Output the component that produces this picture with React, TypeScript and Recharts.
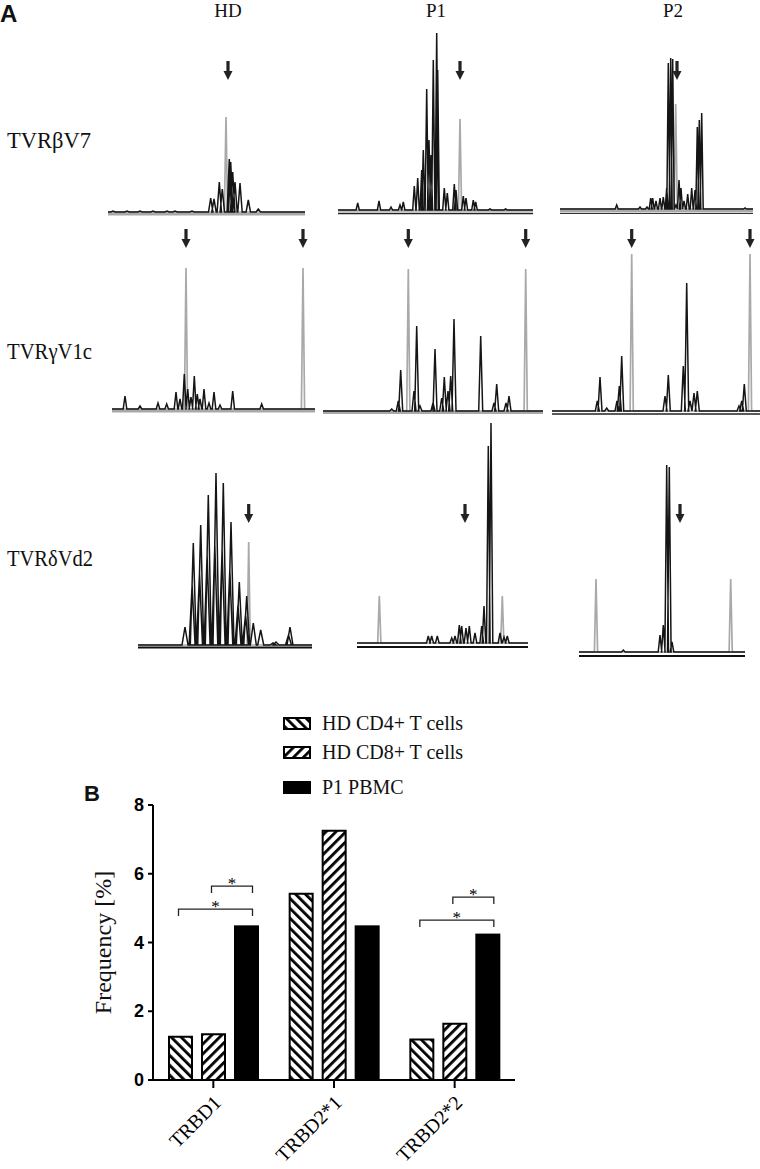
import React from 'react';
import { LineChart, Line, XAxis, YAxis, ReferenceLine, ReferenceDot, BarChart, Bar, Legend } from 'recharts';

const SERIF = '"Liberation Serif", "Times New Roman", serif';
const SANS = '"Liberation Sans", Arial, sans-serif';

// ---- Panel A: spectratype peaks [position, intensity] inside each trace window
// TCR beta V7
const hdBetaSample = [[5, 1], [19, 1], [32, 1], [45, 1], [59, 1], [67, 1], [84, 1], [102.7, 14], [106, 13], [111.3, 30], [114.3, 23], [121.3, 53], [122.7, 50], [124.7, 40], [127, 30], [132, 29], [140.3, 12], [150.3, 3]];
const hdBetaMarker = [[118, 95]];
const p1BetaSample = [[19.7, 7], [41, 9], [53, 3], [62, 5], [65.3, 8], [76.3, 24], [79.7, 32], [83.7, 40], [85.3, 60], [88.7, 121], [91, 70], [93, 55], [95.3, 150], [98.7, 177], [99.7, 140], [106.3, 22], [109.3, 17], [116.3, 26], [118, 20], [125.3, 14], [128, 12], [135.3, 10], [137.7, 8], [152, 1], [167.6, 1]];
const p1BetaMarker = [[122, 91]];
const p2BetaSample = [[56.7, 4], [80, 2], [87, 2], [90.7, 11], [92.7, 11], [96, 8], [100, 11], [103.3, 12], [106.7, 21], [108.3, 146], [110.7, 151], [112.7, 150], [116, 4], [119, 29], [121, 21], [124, 8], [127.7, 15], [131.7, 21], [135, 19], [137.3, 82], [139.3, 89], [141.7, 96], [185, 1]];
const p2BetaMarker = [[115.7, 105]];

// TCR gamma V1c
const hdGammaSample = [[13, 13], [28, 3], [46, 6], [54.7, 5], [64, 17], [68, 10], [72.3, 35], [75.7, 20], [79, 12], [82.3, 33], [85.3, 15], [88, 10], [92, 20], [97, 6], [102, 17], [108, 4], [120.7, 18], [149.7, 5]];
const hdGammaMarker = [[74, 141], [191, 141]];
const p1GammaSample = [[68.7, 2], [75.3, 10], [77.7, 41], [91, 20], [93.7, 85], [97, 5], [110, 8], [112, 62], [118.7, 13], [121.3, 34], [125, 20], [127.7, 35], [131, 92], [157.7, 75], [171, 8], [173.7, 27], [183, 8], [186, 15]];
const p1GammaMarker = [[85.3, 142], [202.7, 142]];
const p2GammaSample = [[45.3, 10], [48, 34], [54.7, 3], [65, 10], [67.3, 25], [69.7, 55], [113, 15], [116.3, 36], [131.3, 45], [134.7, 128], [138, 10], [142, 18], [145.3, 20], [187, 5], [189.7, 10], [192.3, 27]];
const p2GammaMarker = [[79.7, 157], [198, 157]];

// TCR delta Vd2
const hdDeltaSample = [[47, 18], [54.1, 60], [55.3, 102], [61.5, 72], [62.7, 120], [69.1, 90], [70.3, 150], [76.8, 100], [78, 172], [84.1, 95], [85.3, 162], [91.8, 75], [93, 123], [100, 40], [101.3, 63], [107.5, 30], [108.7, 49], [115.3, 22], [122.7, 15], [135, 2], [138, 3], [150.5, 10], [152, 18]];
const hdDeltaMarker = [[110.7, 103]];
const p1DeltaSample = [[71.3, 7], [74.7, 7], [80.3, 7], [94.7, 5], [98, 7], [102.3, 18], [104.7, 17], [109, 15], [112.3, 17], [118, 10], [124.7, 17], [127, 37], [131.3, 197], [134, 220], [143, 10], [147, 6], [150.3, 7]];
const p1DeltaMarker = [[22.3, 47], [145.3, 47]];
const p2DeltaSample = [[44.3, 2], [81, 17], [84.3, 27], [87.7, 187], [90.3, 185], [93, 10]];
const p2DeltaMarker = [[17, 73], [151.7, 73]];

// arrow annotations: x positions
const hdBetaArrows = [120];
const p1BetaArrows = [122];
const p2BetaArrows = [117];
const hdGammaArrows = [74, 191];
const p1GammaArrows = [85.3, 202.7];
const p2GammaArrows = [79.7, 198];
const hdDeltaArrows = [110.7];
const p1DeltaArrows = [108];
const p2DeltaArrows = [101];

const columnLabels = ['HD', 'P1', 'P2'];
const rowLabels = ['TVRβV7', 'TVRγV1c', 'TVRδVd2'];

// ---- Panel B
const genes = ['TRBD1', 'TRBD2*1', 'TRBD2*2'];
const hdCd4 = [1.26, 5.42, 1.18];
const hdCd8 = [1.33, 7.25, 1.64];
const p1Pbmc = [4.47, 4.47, 4.23];
const freqTicks = [0, 2, 4, 6, 8];

// significance brackets (gene, compared bar: 0 = CD4, 1 = CD8, level in %)
const bracketGene = ['TRBD1', 'TRBD1', 'TRBD2*2', 'TRBD2*2'];
const bracketFrom = [1, 0, 1, 0];
const bracketLevel = [5.64, 4.97, 5.32, 4.65];

const barData = genes.map((g, i) => ({ gene: g, cd4: hdCd4[i], cd8: hdCd8[i], p1: p1Pbmc[i] }));

const GRAY = '#a9a9a9';
const INK = '#151515';

const spikes = (peaks: number[][], w: number, width: number) => {
  const pts: { x: number; y: number }[] = [{ x: 0, y: 0 }];
  peaks.forEach(([p, h]) => {
    pts.push({ x: p - w, y: 0 }, { x: p, y: h }, { x: p + w, y: 0 });
  });
  pts.push({ x: width, y: 0 });
  return pts;
};

const rowTops = [25, 222, 415];

const panels = [
  { row: 0, left: 108, width: 197, base: 212, sample: hdBetaSample, marker: hdBetaMarker, arrows: hdBetaArrows, tip: 132, w: 2.2, under: [{ y: -2, c: GRAY, s: 3 }] },
  { row: 0, left: 338, width: 195, base: 210, sample: p1BetaSample, marker: p1BetaMarker, arrows: p1BetaArrows, tip: 130, w: 1.6, under: [{ y: -1, c: GRAY, s: 1.5 }, { y: -3.5, c: '#222', s: 1.5 }] },
  { row: 0, left: 560, width: 193, base: 209, sample: p2BetaSample, marker: p2BetaMarker, arrows: p2BetaArrows, tip: 129, w: 1.5, under: [{ y: -2, c: GRAY, s: 3 }, { y: -4.5, c: '#333', s: 1 }] },
  { row: 1, left: 112, width: 203, base: 409, sample: hdGammaSample, marker: hdGammaMarker, arrows: hdGammaArrows, tip: 161, w: 1.8, under: [{ y: -2, c: GRAY, s: 3 }] },
  { row: 1, left: 323, width: 220, base: 411, sample: p1GammaSample, marker: p1GammaMarker, arrows: p1GammaArrows, tip: 163, w: 2, under: [{ y: -1.5, c: GRAY, s: 3 }] },
  { row: 1, left: 552, width: 208, base: 411, sample: p2GammaSample, marker: p2GammaMarker, arrows: p2GammaArrows, tip: 163, w: 2, under: [{ y: -3, c: '#222', s: 1.5 }] },
  { row: 2, left: 138, width: 174, base: 645, sample: hdDeltaSample, marker: hdDeltaMarker, arrows: hdDeltaArrows, tip: 122, w: 3, under: [{ y: -2.5, c: '#111', s: 2 }] },
  { row: 2, left: 357, width: 171, base: 643, sample: p1DeltaSample, marker: p1DeltaMarker, arrows: p1DeltaArrows, tip: 120, w: 1.8, under: [{ y: -4, c: '#111', s: 2 }] },
  { row: 2, left: 579, width: 166, base: 652, sample: p2DeltaSample, marker: p2DeltaMarker, arrows: p2DeltaArrows, tip: 129, w: 1.8, under: [{ y: -4, c: '#111', s: 2 }] },
];

const ArrowShape = (props: any) => {
  const { cx, cy } = props;
  return (
    <g fill="#222">
      <rect x={cx - 1.6} y={cy - 19} width={3.2} height={11} />
      <polygon points={`${cx - 4.5},${cy - 9} ${cx + 4.5},${cy - 9} ${cx},${cy}`} />
    </g>
  );
};

const Trace = ({ p }: { p: any }) => {
  const top = rowTops[p.row];
  const h = p.base - top;
  return (
    <div style={{ position: 'absolute', left: p.left, top }}>
      <LineChart width={p.width} height={h + 7} margin={{ top: 0, right: 0, bottom: 0, left: 0 }}>
        <XAxis type="number" dataKey="x" domain={[0, p.width]} hide allowDataOverflow />
        <YAxis type="number" domain={[-7, h]} hide allowDataOverflow />
        {p.under.map((u: any, i: number) => (
          <ReferenceLine key={i} y={u.y} stroke={u.c} strokeWidth={u.s} />
        ))}
        <Line data={spikes(p.marker, 1.6, p.width)} dataKey="y" type="linear" stroke={GRAY} strokeWidth={1.7} dot={false} isAnimationActive={false} />
        <Line data={spikes(p.sample, p.w, p.width)} dataKey="y" type="linear" stroke={INK} strokeWidth={1.5} dot={false} isAnimationActive={false} />
        {p.arrows.map((a: number, i: number) => (
          <ReferenceDot key={i} x={a} y={p.tip} r={0} shape={ArrowShape} />
        ))}
      </LineChart>
    </div>
  );
};

const swatchFill: Record<string, string> = { cd4: 'url(#hatchCD4)', cd8: 'url(#hatchCD8)', p1: '#000' };

const LegendBox = (props: any) => {
  const { payload } = props;
  return (
    <div style={{ fontFamily: SERIF }}>
      {(payload || []).map((e: any, i: number) => (
        <div key={e.dataKey} style={{ display: 'flex', alignItems: 'center', height: 29, marginTop: i === 2 ? 6 : 0 }}>
          <svg width={28} height={13}>
            <rect x={1} y={1} width={26} height={11} fill={swatchFill[e.dataKey]} stroke="#000" strokeWidth={2} />
          </svg>
          <span style={{ marginLeft: 11, fontFamily: SERIF, fontSize: 20, color: '#111' }}>{e.value}</span>
        </div>
      ))}
    </div>
  );
};

const P1Shape = (props: any) => {
  const { x, y, width, height, payload } = props;
  const unit = height / payload.p1;
  const base = y + height;
  const cx = x + width / 2;
  const step = width + 10;
  const items = bracketGene.map((g, i) => ({ g, from: bracketFrom[i], level: bracketLevel[i] })).filter((b) => b.g === payload.gene);
  return (
    <g>
      <rect x={x} y={y} width={width} height={height} fill="#000" stroke="#000" strokeWidth={2} />
      {items.map((b, i) => {
        const ly = base - b.level * unit;
        const dy = base - (b.level - 0.2) * unit;
        const lx = cx - (2 - b.from) * step - 2;
        const rx = cx + 6;
        return (
          <g key={i}>
            <path d={`M${lx},${dy}V${ly}H${rx}V${dy}`} stroke="#222" strokeWidth={1.3} fill="none" />
            <text x={(lx + rx) / 2} y={ly + 3} textAnchor="middle" fontFamily={SERIF} fontSize={17} fill="#000" stroke="none">*</text>
          </g>
        );
      })}
    </g>
  );
};

const XTick = (props: any) => {
  const { x, y, payload } = props;
  return (
    <text x={0} y={0} transform={`translate(${x + 9},${y + 14}) rotate(-45)`} textAnchor="end" fontFamily={SERIF} fontSize={20} fill="#000">
      {payload.value}
    </text>
  );
};

const YTick = (props: any) => {
  const { x, y, payload } = props;
  return (
    <text x={x - 2} y={y} dy={6} textAnchor="end" fontFamily={SANS} fontWeight="bold" fontSize={18} fill="#000">
      {payload.value}
    </text>
  );
};

const FreqLabel = (props: any) => {
  const { viewBox } = props;
  const cx = viewBox.x + 10;
  const cy = viewBox.y + viewBox.height / 2;
  return (
    <text x={cx} y={cy} transform={`rotate(-90, ${cx}, ${cy})`} textAnchor="middle" dominantBaseline="central" fontFamily={SERIF} fontSize={24} fill="#111">
      Frequency [%]
    </text>
  );
};

export default function App() {
  return (
    <div style={{ position: 'absolute', left: 0, top: 0, width: 760, height: 1169, background: '#fff', overflow: 'hidden', fontFamily: SERIF }}>
      <svg width={0} height={0} style={{ position: 'absolute' }}>
        <defs>
          <pattern id="hatchCD4" patternUnits="userSpaceOnUse" width={7} height={7} patternTransform="rotate(-45)">
            <rect width={7} height={7} fill="#fff" />
            <rect width={2.8} height={7} fill="#000" />
          </pattern>
          <pattern id="hatchCD8" patternUnits="userSpaceOnUse" width={7} height={7} patternTransform="rotate(45)">
            <rect width={7} height={7} fill="#fff" />
            <rect width={2.8} height={7} fill="#000" />
          </pattern>
        </defs>
      </svg>

      {panels.map((p, i) => (
        <Trace key={i} p={p} />
      ))}

      <div style={{ position: 'absolute', left: 40, top: 700 }}>
        <BarChart width={500} height={469} data={barData} margin={{ top: 105, right: 25, bottom: 59, left: 53 }} barSize={23} barGap={10}>
          <XAxis dataKey="gene" height={30} interval={0} tickSize={8} axisLine={{ stroke: '#000', strokeWidth: 2 }} tickLine={{ stroke: '#000', strokeWidth: 2 }} tick={(t: any) => <XTick {...t} />} />
          <YAxis width={60} domain={[0, 8]} ticks={freqTicks} tickSize={5} axisLine={{ stroke: '#000', strokeWidth: 2 }} tickLine={{ stroke: '#000', strokeWidth: 2 }} tick={(t: any) => <YTick {...t} />} label={<FreqLabel />} />
          <Legend layout="vertical" align="center" verticalAlign="middle" wrapperStyle={{ top: 8.5, left: 243, width: 260 }} content={<LegendBox />} />
          <Bar dataKey="cd4" name="HD CD4+ T cells" fill="url(#hatchCD4)" stroke="#000" strokeWidth={2} isAnimationActive={false} />
          <Bar dataKey="cd8" name="HD CD8+ T cells" fill="url(#hatchCD8)" stroke="#000" strokeWidth={2} isAnimationActive={false} />
          <Bar dataKey="p1" name="P1 PBMC" fill="#000" stroke="#000" strokeWidth={2} shape={P1Shape} isAnimationActive={false} />
        </BarChart>
      </div>

      <svg width={760} height={1169} style={{ position: 'absolute', left: 0, top: 0, pointerEvents: 'none' }}>
        <text x={0} y={22} fontFamily={SANS} fontWeight="bold" fontSize={24} fill="#111">A</text>
        {columnLabels.map((c, i) => (
          <text key={c} x={[228, 436, 673][i]} y={17} textAnchor="middle" fontFamily={SERIF} fontSize={19} fill="#111">{c}</text>
        ))}
        {rowLabels.map((r, i) => (
          <text key={r} x={7} y={[148, 359, 566][i]} fontFamily={SERIF} fontSize={23} textLength={[84, 85, 86][i]} lengthAdjust="spacingAndGlyphs" fill="#111">{r}</text>
        ))}
        <text x={84} y={801} fontFamily={SANS} fontWeight="bold" fontSize={22} fill="#111">B</text>
      </svg>
    </div>
  );
}
